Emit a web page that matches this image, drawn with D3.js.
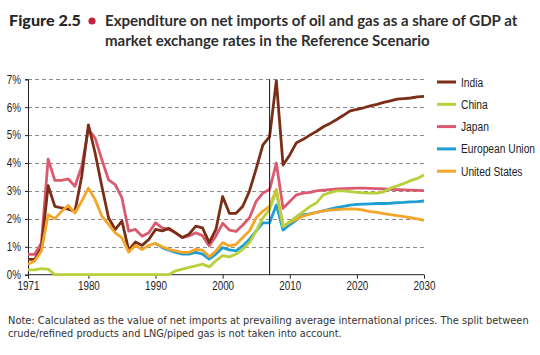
<!DOCTYPE html>
<html>
<head>
<meta charset="utf-8">
<script src="https://cdn.jsdelivr.net/npm/d3@7"></script>
<style>
  html, body { margin: 0; padding: 0; background: #ffffff; }
  svg { display: block; }
</style>
</head>
<body>
<script>
// ---- data ----
const years = d3.range(1971, 2031);
const yTicks = [0, 1, 2, 3, 4, 5, 6, 7];
const xTicks = [1971, 1980, 1990, 2000, 2010, 2020, 2030];
const seriesNames = ["India", "China", "Japan", "European Union", "United States"];

const india = [0.55,0.55,0.96,3.19,2.45,2.39,2.35,2.27,3.52,5.37,4.36,3.17,2.04,1.62,1.92,0.88,1.17,1.05,1.26,1.62,
  1.57,1.66,1.50,1.33,1.45,1.74,1.68,1.15,1.62,2.80,2.20,2.20,2.45,3.00,3.80,4.65,4.95,6.95,3.93,4.29,
  4.73,4.85,5.00,5.14,5.30,5.42,5.56,5.71,5.87,5.92,5.98,6.05,6.10,6.17,6.23,6.29,6.31,6.33,6.37,6.39];
const china = [0.17,0.17,0.22,0.20,0.00,0.00,0.00,0.00,0.00,0.00,0.00,0.00,0.00,0.00,0.00,0.00,0.00,0.00,0.00,0.00,
  0.00,0.01,0.14,0.20,0.26,0.32,0.38,0.28,0.50,0.68,0.64,0.74,0.91,1.15,1.57,2.04,2.34,3.00,1.73,1.90,
  2.08,2.26,2.44,2.58,2.86,2.94,3.00,3.00,2.98,2.95,2.93,2.92,2.92,2.97,3.10,3.18,3.27,3.37,3.45,3.57];
const japan = [0.73,0.73,1.14,4.14,3.38,3.38,3.43,3.17,3.88,5.21,4.89,4.12,3.40,3.23,2.75,1.56,1.62,1.38,1.50,1.86,
  1.68,1.62,1.50,1.33,1.39,1.50,1.40,1.03,1.39,1.84,1.60,1.55,1.78,2.04,2.63,2.93,3.05,4.00,2.38,2.62,
  2.86,2.92,2.95,3.00,3.03,3.05,3.07,3.08,3.09,3.10,3.10,3.09,3.08,3.07,3.06,3.05,3.04,3.03,3.02,3.01];
const eu = [null,null,null,null,null,null,null,null,null,null,null,null,null,null,null,null,null,null,null,1.12,
  0.97,0.88,0.80,0.74,0.74,0.80,0.74,0.56,0.74,0.97,0.89,0.85,1.03,1.27,1.57,1.86,1.86,2.50,1.60,1.79,
  1.96,2.14,2.18,2.23,2.29,2.35,2.40,2.45,2.49,2.52,2.53,2.54,2.55,2.55,2.56,2.58,2.59,2.61,2.62,2.64];
const us = [0.37,0.49,0.85,2.15,2.01,2.27,2.48,2.21,2.63,3.10,2.69,2.10,1.80,1.50,1.32,0.81,1.05,0.90,1.05,1.12,
  1.00,0.91,0.85,0.80,0.80,0.91,0.88,0.64,0.85,1.15,1.03,1.09,1.33,1.57,2.04,2.28,2.45,3.05,1.73,1.87,
  1.99,2.10,2.17,2.23,2.29,2.31,2.33,2.35,2.36,2.35,2.31,2.26,2.23,2.19,2.15,2.12,2.08,2.04,2.00,1.95];
const baseYear = 2007;

const colors = {
  "India": "#7a2e17",
  "China": "#b8d03c",
  "Japan": "#db5a70",
  "European Union": "#1d9fd3",
  "United States": "#f4a62a"
};
const valuesByName = {
  "India": india, "China": china, "Japan": japan,
  "European Union": eu, "United States": us
};
const drawOrder = ["Japan", "India", "European Union", "United States", "China"];

// ---- layout ----
const W = 540, H = 355;
const svg = d3.select("body").append("svg").attr("width", W).attr("height", H);

const x = d3.scaleLinear().domain([1971, 2030]).range([28, 424]);
const y = d3.scaleLinear().domain([0, 7]).range([274.7, 79.3]);

const tickFont = "'Liberation Sans', Arial, sans-serif";

// Place text at (px,py) compressed horizontally by a factor (emulates a narrow face).
function squeezeText(parent, px, py, str, factor, anchor) {
  const g = parent.append("g");
  const t = g.append("text").attr("x", 0).attr("y", 0).text(str);
  return { g, t, apply() {
    g.attr("transform", `translate(${px},${py}) scale(${factor},1)`);
    if (anchor) t.attr("text-anchor", anchor);
  } };
}
// Place text and scale so that it spans exactly `width` px.
function fitText(parent, px, py, str, width, styleFn) {
  const g = parent.append("g");
  const t = g.append("text").attr("x", 0).attr("y", 0).text(str);
  styleFn(t);
  const w = t.node().getComputedTextLength();
  g.attr("transform", `translate(${px},${py}) scale(${(width / w).toFixed(4)},1)`);
  return t;
}

// title
const titleFont = "Lato, 'Open Sans', sans-serif";
const title = svg.append("g");
fitText(title, 9, 26, "Figure 2.5", 72, t => t
  .attr("font-family", titleFont).attr("font-weight", 900).attr("font-size", 15).attr("fill", "#262626"));
title.append("circle").attr("cx", 92).attr("cy", 21).attr("r", 3.6).attr("fill", "#c4213f");
fitText(title, 105, 26, "Expenditure on net imports of oil and gas as a share of GDP at", 413, t => t
  .attr("font-family", titleFont).attr("font-weight", 700).attr("font-size", 14.5).attr("fill", "#2e2e2e"));
fitText(title, 105, 45.5, "market exchange rates in the Reference Scenario", 325, t => t
  .attr("font-family", titleFont).attr("font-weight", 700).attr("font-size", 14.5).attr("fill", "#2e2e2e"));

// gridlines
svg.append("g").selectAll("line").data(yTicks.filter(d => d > 0)).join("line")
  .attr("x1", x(1971)).attr("x2", x(2030))
  .attr("y1", d => Math.round(y(d)) + 0.5).attr("y2", d => Math.round(y(d)) + 0.5)
  .attr("stroke", "#8c8c8c").attr("stroke-width", 1).attr("stroke-dasharray", "4,3");

// y axis (ticks via d3 axis, labels compressed)
const yAxis = svg.append("g").attr("transform", `translate(${x(1971)},0)`)
  .call(d3.axisLeft(y).tickValues(yTicks).tickFormat(d => d + "%").tickSize(3).tickPadding(4));
yAxis.selectAll("line, path").attr("stroke", "#222");
yAxis.selectAll(".tick text")
  .attr("font-family", tickFont).attr("font-size", 12).attr("fill", "#222")
  .attr("transform", function () { return "scale(0.82,1)"; })
  .attr("x", -7 / 0.82);

// x axis
const xAxis = svg.append("g").attr("transform", `translate(0,${y(0)})`)
  .call(d3.axisBottom(x).tickValues(xTicks).tickFormat(d3.format("d")).tickSize(4).tickPadding(3));
xAxis.selectAll("line, path").attr("stroke", "#222");
xAxis.select(".domain").attr("d", `M${x(1971)},0H${x(2030)}`);
xAxis.selectAll(".tick text")
  .attr("font-family", tickFont).attr("font-size", 12).attr("fill", "#222")
  .attr("transform", "scale(0.82,1)");

// lines
const line = d3.line()
  .defined(d => d.v !== null)
  .x(d => x(d.year)).y(d => y(d.v));

svg.append("g").selectAll("path").data(drawOrder).join("path")
  .attr("d", name => line(years.map((yr, i) => ({ year: yr, v: valuesByName[name][i] }))))
  .attr("fill", "none")
  .attr("stroke", name => colors[name])
  .attr("stroke-width", 2.8)
  .attr("stroke-linejoin", "round");

// base-year vertical line
svg.append("line")
  .attr("x1", x(baseYear)).attr("x2", x(baseYear))
  .attr("y1", y(0)).attr("y2", y(7))
  .attr("stroke", "#111").attr("stroke-width", 1);

// legend
const legend = svg.append("g").selectAll("g").data(seriesNames).join("g")
  .attr("transform", (d, i) => `translate(437,${82 + i * 22.3})`);
legend.append("line").attr("x1", 0).attr("x2", 19).attr("y1", 0).attr("y2", 0)
  .attr("stroke", d => colors[d]).attr("stroke-width", 3);
legend.append("g").attr("transform", "translate(24,4.5) scale(0.82,1)")
  .append("text")
  .attr("font-family", tickFont).attr("font-size", 12.5).attr("fill", "#222")
  .text(d => d);

// note
const noteStyle = t => t.attr("font-family", "'DejaVu Sans', sans-serif")
  .attr("font-size", 10.5).attr("fill", "#333");
fitText(svg, 8, 324, "Note: Calculated as the value of net imports at prevailing average international prices. The split between", 521, noteStyle);
fitText(svg, 8, 337, "crude/refined products and LNG/piped gas is not taken into account.", 334, noteStyle);
</script>
</body>
</html>
